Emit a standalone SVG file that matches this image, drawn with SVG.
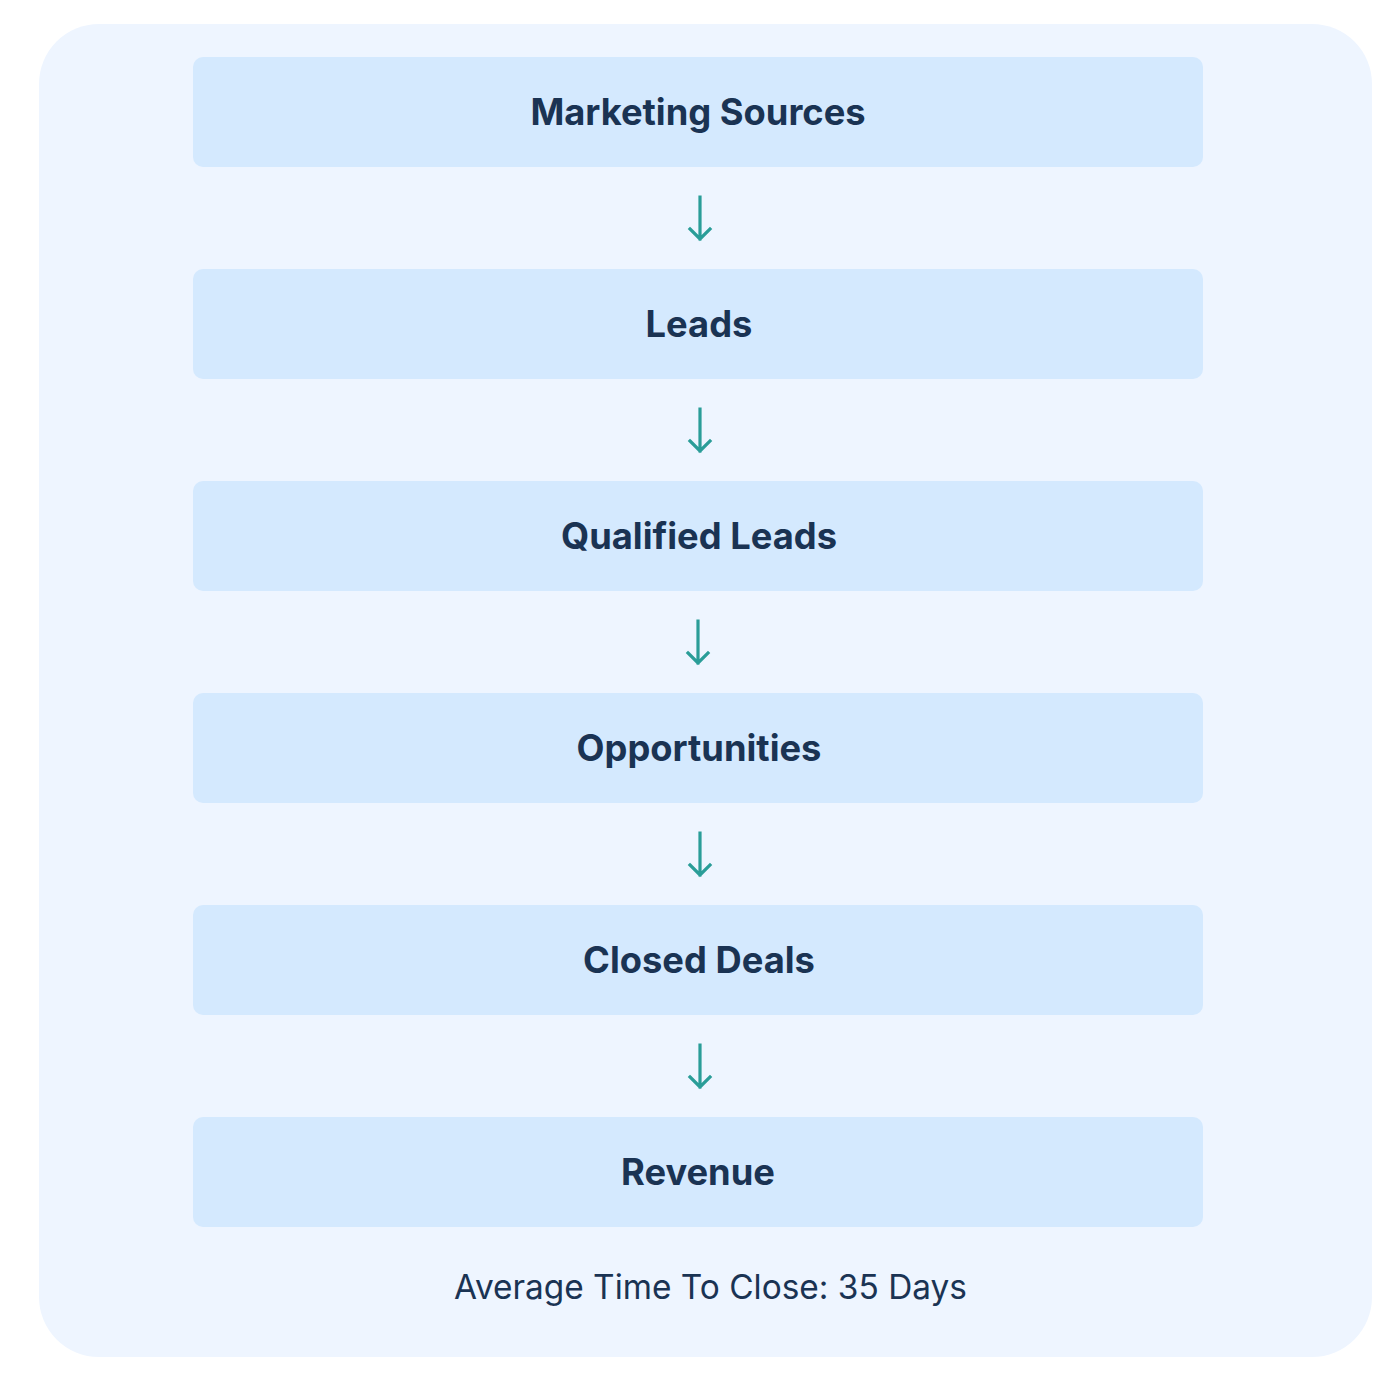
<svg xmlns="http://www.w3.org/2000/svg" width="1400" height="1400" viewBox="0 0 1400 1400">
<style>
.box{fill:#d4e9fe}
.lbl{font-family:Inter,"Noto Sans",sans-serif;font-weight:700;font-size:36.3px;fill:#1a3353;text-anchor:middle}
.ft{font-family:Inter,"Noto Sans",sans-serif;font-weight:400;font-size:33.4px;fill:#1a3353;text-anchor:middle}
.arr{stroke:#2a9d98;stroke-width:3.2;fill:none;stroke-linecap:square}
</style>
<rect x="0" y="0" width="1400" height="1400" fill="#ffffff"/>
<rect x="39" y="24" width="1333" height="1333" rx="60" fill="#eef5ff"/>
<g id="n1"><rect class="box" x="193" y="57" width="1010" height="110" rx="10"/><text class="lbl" x="698" y="125">Marketing Sources</text></g>
<g id="n2"><rect class="box" x="193" y="269" width="1010" height="110" rx="10"/><text class="lbl" x="699" y="337">Leads</text></g>
<g id="n3"><rect class="box" x="193" y="481" width="1010" height="110" rx="10"/><text class="lbl" x="699" y="549">Qualified Leads</text></g>
<g id="n4"><rect class="box" x="193" y="693" width="1010" height="110" rx="10"/><text class="lbl" x="699" y="761">Opportunities</text></g>
<g id="n5"><rect class="box" x="193" y="905" width="1010" height="110" rx="10"/><text class="lbl" x="699" y="973">Closed Deals</text></g>
<g id="n6"><rect class="box" x="193" y="1117" width="1010" height="110" rx="10"/><text class="lbl" x="698" y="1185">Revenue</text></g>
<g id="connectors">
<path class="arr" d="M700 197 V239 M690 229 L700 239 L710 229"/>
<path class="arr" d="M700 409 V451 M690 441 L700 451 L710 441"/>
<path class="arr" d="M698 621 V663 M688 653 L698 663 L708 653"/>
<path class="arr" d="M700 833 V875 M690 865 L700 875 L710 865"/>
<path class="arr" d="M700 1045 V1087 M690 1077 L700 1087 L710 1077"/>
</g>
<text class="ft" x="710.5" y="1299">Average Time To Close: 35 Days</text>
</svg>
